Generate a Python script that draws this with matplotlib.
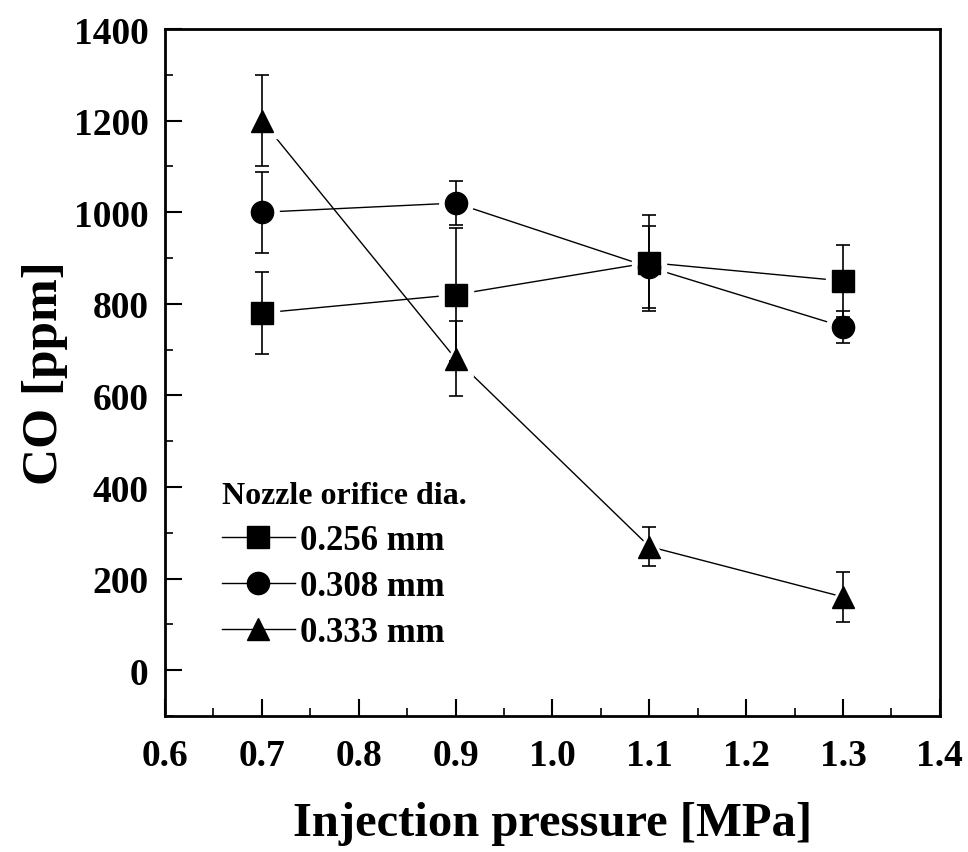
import numpy as np
import matplotlib.pyplot as plt
from matplotlib.ticker import MultipleLocator

pressure = [0.7, 0.9, 1.1, 1.3]

co_256 = [780, 820, 890, 850]
err_256 = [90, 145, 105, 78]

co_308 = [1000, 1020, 880, 750]
err_308 = [88, 48, 90, 35]

co_333 = [1200, 680, 270, 160]
err_333 = [100, 82, 42, 55]

labels = ["0.256 mm", "0.308 mm", "0.333 mm"]
markers = ["s", "o", "^"]

plt.rcParams['font.family'] = ['Liberation Serif', 'DejaVu Serif']
plt.rcParams['font.weight'] = 'bold'

fig = plt.figure(figsize=(9.68, 8.53), dpi=100)
ax = fig.add_axes([0.1705, 0.1594, 0.8005, 0.8054])

series = [(co_256, err_256), (co_308, err_308), (co_333, err_333)]
handles = []
for (y, e), m, lab in zip(series, markers, labels):
    ax.plot(pressure, y, color='black', lw=1.0, zorder=1)
    # white halo leaves a small gap between line and symbol
    ax.plot(pressure, y, ls='none', marker=m, ms=24, mfc='white', mec='white', zorder=2)
    ax.errorbar(pressure, y, yerr=e, fmt='none', ecolor='black', elinewidth=1.2,
                capsize=5, capthick=1.2, zorder=3)
    ax.plot(pressure, y, ls='none', marker=m, ms=16, mfc='black', mec='black', zorder=4)
    h, = ax.plot([], [], color='black', lw=1.0, marker=m, ms=16)
    handles.append(h)

ax.set_xlim(0.6, 1.4)
ax.set_ylim(-100, 1400)
ax.xaxis.set_major_locator(MultipleLocator(0.1))
ax.xaxis.set_minor_locator(MultipleLocator(0.05))
ax.yaxis.set_major_locator(MultipleLocator(200))
ax.yaxis.set_minor_locator(MultipleLocator(100))
ax.xaxis.set_major_formatter(plt.FuncFormatter(lambda v, p: f"{v:.1f}"))

ax.tick_params(axis='both', which='major', direction='in', length=12, width=1.5,
               labelsize=27, top=False, right=False)
ax.tick_params(axis='both', which='minor', direction='in', length=6, width=1.2,
               top=False, right=False)
ax.tick_params(axis='y', pad=12)
ax.tick_params(axis='x', pad=16)
for s in ax.spines.values():
    s.set_linewidth(2)

ax.set_xlabel("Injection pressure [MPa]", fontsize=35, fontweight='bold', labelpad=20)
ax.set_ylabel("CO [ppm]", fontsize=37, fontweight='bold', labelpad=4)

leg = ax.legend(handles, labels, title="Nozzle orifice dia.", loc='lower left',
                bbox_to_anchor=(0.033, 0.052), frameon=False, fontsize=25,
                title_fontsize=23, handlelength=2.1, handletextpad=0.15,
                labelspacing=0.38)
leg._legend_box.align = "left"
leg.get_title().set_fontweight('bold')

fig.savefig("out.png", dpi=100)
